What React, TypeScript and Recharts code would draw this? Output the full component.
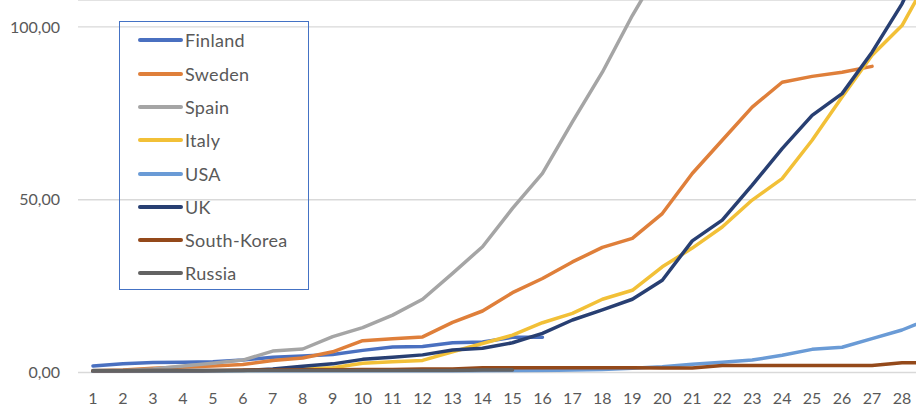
import { LineChart, Line, XAxis, YAxis, CartesianGrid, Legend } from "recharts"

// days since start (day 29 is cut off at the right edge)
const DAYS = [1, 2, 3, 4, 5, 6, 7, 8, 9, 10, 11, 12, 13, 14, 15, 16, 17, 18, 19, 20, 21, 22, 23, 24, 25, 26, 27, 28, 29]

const FINLAND = [1.9, 2.5, 2.9, 3.0, 3.1, 3.6, 4.4, 4.8, 5.2, 6.4, 7.4, 7.5, 8.6, 8.8, 10.2, 10.2]
const SWEDEN = [0.5, 0.7, 1.2, 1.6, 1.9, 2.3, 3.5, 4.2, 6.0, 9.2, 9.8, 10.3, 14.5, 17.8, 23.1, 27.2, 32.0, 36.2, 38.8, 46.0, 57.6, 67.2, 76.8, 84.0, 85.7, 86.9, 88.6]
const SPAIN = [0.4, 0.5, 1.0, 1.9, 2.7, 3.6, 6.2, 6.8, 10.4, 13.0, 16.6, 21.2, 28.7, 36.4, 47.5, 57.6, 72.5, 86.9, 103.3, 118.0, 132.0]
const ITALY = [0.2, 0.2, 0.3, 0.3, 0.4, 0.5, 0.7, 1.0, 1.4, 2.7, 3.1, 3.5, 6.0, 8.4, 10.8, 14.4, 17.1, 21.2, 23.8, 30.6, 36.0, 42.1, 49.9, 56.1, 67.2, 79.7, 91.8, 100.4, 116.0]
const USA = [0.1, 0.1, 0.1, 0.1, 0.1, 0.1, 0.2, 0.2, 0.2, 0.2, 0.3, 0.3, 0.3, 0.4, 0.5, 0.6, 0.7, 0.9, 1.2, 1.7, 2.4, 3.0, 3.6, 5.0, 6.7, 7.3, 9.8, 12.3, 15.8]
const UK = [0.2, 0.2, 0.3, 0.3, 0.4, 0.6, 1.0, 1.8, 2.5, 3.8, 4.4, 5.1, 6.5, 7.0, 8.6, 11.3, 15.2, 18.1, 21.2, 26.7, 38.1, 44.1, 54.2, 64.8, 74.4, 80.7, 92.7, 106.7, 125.0]
const SOUTH_KOREA = [0.5, 0.5, 0.6, 0.6, 0.6, 0.7, 0.7, 0.8, 0.8, 0.9, 0.9, 1.0, 1.0, 1.4, 1.4, 1.4, 1.4, 1.4, 1.4, 1.3, 1.3, 2.0, 2.0, 2.0, 2.0, 2.0, 2.0, 2.8, 2.8]
const RUSSIA = [0.6, 0.6, 0.6, 0.6, 0.6, 0.6, 0.6, 0.6, 0.6, 0.6, 0.6, 0.6, 0.6, 0.7, 0.7]

const SERIES = [
  { key: "Finland", color: "#4A70C0", values: FINLAND },
  { key: "Sweden", color: "#DF7F3A", values: SWEDEN },
  { key: "Spain", color: "#A5A5A5", values: SPAIN },
  { key: "Italy", color: "#F2C037", values: ITALY },
  { key: "USA", color: "#6A9BD6", values: USA },
  { key: "UK", color: "#283F72", values: UK },
  { key: "South-Korea", color: "#94491A", values: SOUTH_KOREA },
  { key: "Russia", color: "#636363", values: RUSSIA },
]

const Y_TICKS = [0, 50, 100]

const data = DAYS.map((day, i) => {
  const row: Record<string, number | null> = { day }
  SERIES.forEach(s => { row[s.key] = s.values[i] ?? null })
  return row
})

function formatComma(v: number) {
  return v.toFixed(2).replace(".", ",")
}

// legend box is see-through in the original (gridline runs across it)
function LegendBox() {
  return (
    <div style={{
      width: 188, height: 267, border: "1px solid #4472C4",
      boxSizing: "content-box", position: "relative",
    }}>
      {SERIES.map((s, i) => (
        <div key={s.key} style={{
          position: "absolute", left: 18, top: 18.3 + i * 33.3 - 12,
          height: 24, display: "flex", alignItems: "center",
        }}>
          <div style={{ width: 45, height: 4, background: s.color, borderRadius: 2 }} />
          <span style={{
            marginLeft: 2, fontSize: 18, color: "#595959", letterSpacing: 0.3,
            lineHeight: "24px", whiteSpace: "nowrap",
          }}>{s.key}</span>
        </div>
      ))}
    </div>
  )
}

export default function App() {
  return (
    <div style={{ position: "absolute", left: 0, top: 0, width: 916, height: 415, overflow: "hidden", background: "#fff", fontFamily: "Lato, sans-serif" }}>
      <LineChart width={916} height={415} data={data} margin={{ top: 0, right: 0, bottom: 0, left: 0 }}>
        <CartesianGrid vertical={false} stroke="#D9D9D9" strokeWidth={1.3} />
        <XAxis
          dataKey="day"
          type="number"
          domain={[0.5, 28.467]}
          allowDataOverflow
          ticks={DAYS.slice(0, 28)}
          interval={0}
          axisLine={false}
          tickLine={false}
          tickSize={10}
          tickMargin={10}
          height={42.5}
          tick={{ fontSize: 16, fill: "#595959" }}
        />
        <YAxis
          type="number"
          domain={[0, 107.8]}
          allowDataOverflow
          ticks={Y_TICKS}
          width={78}
          axisLine={false}
          tickLine={false}
          tickSize={10}
          tickMargin={8}
          tickFormatter={formatComma}
          tick={{ fontSize: 16, fill: "#595959" }}
        />
        {SERIES.map(s => (
          <Line
            key={s.key}
            dataKey={s.key}
            stroke={s.color}
            strokeWidth={3.5}
            strokeLinecap="round"
            strokeLinejoin="round"
            dot={false}
            activeDot={false}
            isAnimationActive={false}
          />
        ))}
        <Legend
          layout="vertical"
          align="center"
          verticalAlign="middle"
          content={() => <LegendBox />}
          wrapperStyle={{ left: 119, top: 21, width: 190, height: 269 }}
        />
      </LineChart>
    </div>
  )
}
